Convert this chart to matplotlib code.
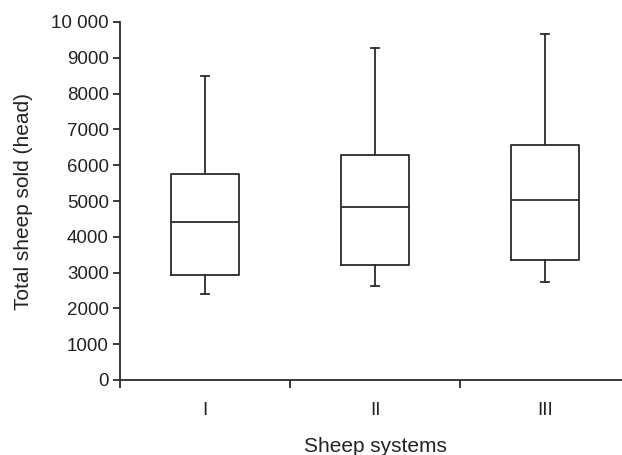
import matplotlib.pyplot as plt
from matplotlib.ticker import FuncFormatter

plt.rcParams['font.family'] = ['Liberation Sans', 'DejaVu Sans']

# box plot summary per sheep system (head)
systems = ['I', 'II', 'III']
whisker_low = [2410, 2630, 2740]
q1 = [2940, 3220, 3350]
median = [4410, 4840, 5030]
q3 = [5760, 6290, 6555]
whisker_high = [8500, 9280, 9660]

stats = []
for i, name in enumerate(systems):
	stats.append({'label': name, 'whislo': whisker_low[i], 'q1': q1[i], 'med': median[i],
				  'q3': q3[i], 'whishi': whisker_high[i], 'fliers': []})

line_col = '#2b2b2b'
txt_col = '#222222'
fig = plt.figure(figsize=(6.22, 4.55), dpi=100)
ax = fig.add_axes([120/622, 75/455, 510/622, 358/455])

lp = dict(color=line_col, linewidth=1.3)
ax.bxp(stats, positions=[1, 2, 3], widths=0.4, capwidths=0.05, showfliers=False,
	   boxprops=lp, whiskerprops=lp, capprops=lp, medianprops=lp)

ax.set_xlim(0.5, 3.5)
ax.set_ylim(0, 10000)
ax.set_yticks(range(0, 10001, 1000))
ax.yaxis.set_major_formatter(FuncFormatter(lambda v, p: '10 000' if v == 10000 else f'{int(v)}'))

# category labels in the middle, ticks on the boundaries
ax.set_xticks([0.5, 1.5, 2.5, 3.5])
ax.set_xticklabels([])
ax.set_xticks([1, 2, 3], minor=True)
ax.set_xticklabels(systems, minor=True)
ax.tick_params(axis='x', which='major', direction='out', length=6, width=1.3, color=line_col)
ax.tick_params(axis='x', which='minor', length=0, pad=16, labelsize=13.5, labelcolor=txt_col)
ax.tick_params(axis='y', direction='out', length=5, width=1.3, color=line_col, pad=3,
			   labelsize=13.5, labelcolor=txt_col)

for s in ['top', 'right']:
	ax.spines[s].set_visible(False)
for s in ['left', 'bottom']:
	ax.spines[s].set_color(line_col)
	ax.spines[s].set_linewidth(1.3)

ax.set_xlabel('Sheep systems', fontsize=15, color=txt_col, labelpad=13)
ax.set_ylabel('Total sheep sold (head)', fontsize=15, color=txt_col, labelpad=13)

plt.savefig('out.png', dpi=100)
